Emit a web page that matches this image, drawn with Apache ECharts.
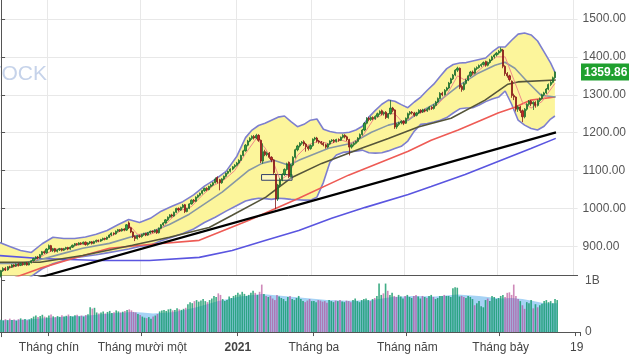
<!DOCTYPE html>
<html><head><meta charset="utf-8">
<script src="https://cdn.jsdelivr.net/npm/echarts@6/dist/echarts.min.js"></script>
<style>html,body{margin:0;padding:0;background:#fff}#c{width:629px;height:354px}</style>
</head><body><div id="c"></div>
<script>
// ---- daily candles: [open, close, low, high] ----
const ohlc = [
[822,836,818,838],[836,842,833,845],[842,838,835,846],[838,846,836,848],[846,845,842,849],
[845,851,843,853],[851,848,845,853],[848,853,846,855],[853,850,847,856],[850,855,848,857],
[855,852,849,858],[852,856,850,858],[856,851,849,858],[851,857,850,859],[857,862,855,864],
[862,868,860,870],[868,872,865,874],[872,870,866,875],[870,878,868,880],[878,886,876,888],
[886,883,880,889],[883,893,881,895],[893,902,891,905],[902,889,886,904],[889,894,885,896],
[894,887,884,896],[887,891,884,893],[891,894,888,896],[894,890,887,896],[890,894,888,896],
[894,897,891,899],[897,893,890,899],[893,898,891,900],[898,903,896,905],[903,907,900,909],
[907,905,902,909],[905,909,903,911],[909,907,904,911],[907,911,905,913],[911,905,902,913],
[905,909,902,911],[909,912,906,914],[912,908,905,914],[908,913,906,915],[913,916,910,918],
[916,914,911,918],[914,918,912,920],[918,921,915,923],[921,919,916,923],[919,924,917,926],
[924,930,922,932],[930,935,927,937],[935,933,929,937],[933,940,931,942],[940,944,937,946],
[944,941,938,946],[941,946,939,948],[946,943,940,948],[943,957,941,959],[962,949,946,966],
[949,938,935,951],[938,926,922,940],[926,921,914,929],[921,928,918,930],[928,926,922,931],
[926,931,923,933],[931,934,928,936],[934,930,927,936],[930,936,928,938],[936,940,933,942],
[940,938,935,942],[938,943,936,945],[943,936,933,945],[936,948,934,950],[948,957,946,959],
[957,962,954,964],[962,970,960,972],[970,977,967,979],[977,983,974,985],[983,980,976,986],
[980,990,978,992],[990,1000,988,1002],[1000,996,992,1003],[996,1003,994,1005],[1003,1009,1000,1012],
[1010,992,988,1012],[992,1000,990,1002],[1000,1012,998,1014],[1012,1022,1010,1024],[1022,1019,1015,1025],
[1019,1030,1017,1032],[1030,1035,1027,1037],[1035,1040,1032,1042],[1040,1047,1037,1049],[1047,1053,1044,1055],
[1053,1050,1046,1056],[1050,1058,1048,1060],[1058,1062,1055,1065],[1062,1068,1059,1070],[1068,1078,1066,1082],
[1082,1070,1066,1085],[1076,1068,1048,1078],[1068,1078,1065,1080],[1078,1085,1075,1087],[1085,1093,1082,1095],
[1093,1098,1090,1100],[1098,1104,1095,1106],[1104,1110,1101,1112],[1110,1114,1106,1117],[1114,1120,1111,1123],
[1120,1127,1117,1130],[1127,1140,1125,1142],[1140,1152,1138,1155],[1152,1167,1150,1170],[1167,1178,1164,1181],
[1178,1185,1175,1188],[1185,1190,1181,1193],[1190,1186,1182,1194],[1186,1193,1183,1197],[1193,1180,1176,1196],
[1180,1125,1120,1182],[1125,1150,1118,1172],[1150,1142,1138,1155],[1142,1146,1138,1150],[1146,1135,1131,1149],
[1135,1128,1122,1138],[1128,1095,1090,1130],[1090,1025,998,1092],[1025,1062,1020,1065],[1062,1076,1058,1080],
[1076,1090,1072,1093],[1090,1103,1086,1106],[1103,1118,1100,1121],[1122,1084,1080,1124],[1084,1115,1082,1118],
[1115,1135,1112,1138],[1135,1155,1132,1158],[1155,1165,1151,1168],[1165,1172,1161,1175],[1172,1175,1168,1178],
[1176,1170,1165,1180],[1170,1163,1150,1173],[1163,1158,1153,1166],[1158,1166,1155,1169],[1166,1183,1163,1185],
[1183,1186,1179,1189],[1186,1178,1174,1189],[1178,1175,1171,1181],[1175,1172,1168,1178],[1172,1168,1164,1175],
[1168,1162,1158,1171],[1162,1170,1159,1172],[1170,1178,1167,1180],[1178,1180,1175,1183],[1180,1177,1173,1183],
[1177,1182,1174,1184],[1182,1180,1176,1185],[1180,1188,1178,1190],[1188,1193,1185,1196],[1193,1189,1185,1196],
[1189,1182,1178,1192],[1182,1162,1140,1184],[1162,1168,1158,1171],[1168,1172,1164,1175],[1172,1177,1169,1179],
[1177,1186,1174,1188],[1186,1195,1183,1198],[1195,1207,1192,1210],[1207,1225,1204,1228],[1225,1238,1222,1241],
[1238,1235,1230,1242],[1235,1240,1231,1243],[1240,1237,1233,1243],[1237,1243,1234,1246],[1243,1250,1240,1253],
[1250,1256,1247,1259],[1258,1250,1246,1261],[1250,1253,1245,1256],[1254,1240,1236,1257],[1240,1250,1237,1252],
[1250,1265,1248,1286],[1265,1259,1254,1268],[1260,1215,1210,1262],[1215,1222,1210,1225],[1222,1226,1218,1229],
[1226,1230,1222,1233],[1230,1225,1220,1233],[1225,1238,1223,1240],[1238,1250,1235,1253],[1250,1254,1246,1257],
[1254,1252,1248,1257],[1252,1246,1242,1255],[1246,1252,1243,1255],[1252,1259,1249,1262],[1259,1255,1251,1262],
[1255,1260,1252,1263],[1260,1258,1254,1263],[1258,1262,1255,1265],[1262,1267,1259,1270],[1267,1264,1260,1270],
[1264,1272,1261,1275],[1272,1281,1270,1284],[1281,1290,1278,1293],[1290,1304,1288,1307],[1304,1300,1296,1308],
[1300,1312,1298,1315],[1312,1318,1309,1321],[1318,1331,1315,1334],[1331,1342,1328,1345],[1342,1352,1339,1355],
[1352,1365,1349,1368],[1365,1370,1360,1374],[1370,1320,1315,1372],[1322,1314,1308,1326],[1314,1330,1311,1333],
[1330,1339,1327,1342],[1339,1350,1336,1353],[1350,1360,1347,1363],[1360,1357,1353,1364],[1357,1369,1354,1372],
[1369,1372,1365,1375],[1372,1377,1369,1380],[1377,1380,1373,1383],[1380,1385,1377,1388],[1388,1378,1374,1390],
[1378,1385,1375,1388],[1385,1392,1382,1395],[1392,1400,1389,1403],[1400,1405,1396,1408],[1405,1410,1401,1413],
[1410,1415,1406,1418],[1415,1420,1411,1425],[1418,1375,1370,1421],[1375,1356,1350,1378],[1356,1350,1345,1360],
[1350,1340,1335,1353],[1336,1298,1292,1338],[1298,1294,1286,1303],[1294,1262,1256,1296],[1262,1268,1255,1272],
[1268,1258,1252,1271],[1258,1242,1228,1261],[1242,1262,1238,1265],[1262,1275,1258,1278],[1275,1283,1271,1286],
[1283,1276,1270,1286],[1276,1280,1260,1283],[1280,1272,1266,1283],[1272,1285,1269,1288],[1285,1290,1281,1293],
[1290,1300,1287,1303],[1300,1305,1296,1308],[1305,1315,1302,1318],[1315,1327,1312,1330],[1327,1333,1323,1336],
[1333,1345,1330,1348],[1345,1359.86,1342,1362]
];
// ---- daily volume (millions of shares) ----
const volume = [
240,225,250,230,260,235,245,220,250,265,240,255,230,245,270,
300,320,290,310,335,300,285,320,340,305,290,310,295,325,300,315,340,310,300,325,335,305,320,300,330,345,
480,455,470,380,360,
380,400,360,390,410,370,385,420,400,380,395,410,430,440,420,390,380,350,330,
300,280,270,290,260,300,320,350,
400,420,430,410,440,450,420,430,460,440,430,450,470,
540,580,560,600,620,590,610,640,600,580,620,650,700,680,750,720,640,600,620,690,660,
700,720,760,730,780,740,700,720,760,800,760,720,780,920,740,700,
680,700,650,620,720,690,660,640,600,680,700,640,620,660,700,640,600,580,610,640,600,
600,580,620,610,590,600,570,620,600,580,610,600,620,590,580,610,600,580,620,650,600,580,620,640,650,620,600,640,660,
700,940,720,750,940,800,720,760,
700,680,720,690,650,700,720,680,660,700,720,690,650,700,680,660,700,720,680,640,660,700,700,720,700,700,680,
850,870,860,690,700,680,660,700,680,640,520,560,600,500,480,620,650,600,700,680,640,660,
700,720,680,760,770,720,920,700,640,
600,520,450,580,560,620,460,540,480,520,550,600,
620,580,600,560,640,620
];
// ---- Bollinger band (read at day positions) ----
const bandIdx = [-1,4,9,14,19,24,29,34,39,44,49,54,59,64,69,74,79,84,89,94,99,104,109,113,116,119,122,125,128,131,134,137,140,143,146,149,152,155,158,161,164,167,170,173,176,179,182,185,188,191,194,197,200,203,206,209,212,215,218,221,224,227,230,233,236,239,242,245,248,251,254,256];
const bbUpper = [911,900,889,884,907,924,921,921,925,932,942,957,971,963,974,993,1006,1018,1036,1059,1077,1098,1138,1187,1207,1219,1225,1233,1241,1244,1229,1216,1222,1233,1236,1209,1203,1200,1199,1201,1207,1217,1241,1259,1275,1286,1283,1274,1266,1281,1294,1312,1328,1349,1369,1380,1384,1385,1389,1393,1397,1413,1426,1426,1444,1460,1463,1458,1442,1413,1384,1360];
const bbLower = [784,792,802,821,841,854,863,870,874,878,883,888,893,900,903,915,924,934,946,963,977,993,1008,1020,1024,1027,1026,1024,1027,1026,1024,1023,1022,1022,1030,1069,1122,1141,1148,1150,1151,1154,1147,1146,1147,1152,1158,1164,1178,1204,1222,1224,1228,1233,1240,1252,1263,1265,1266,1273,1282,1289,1294,1310,1275,1233,1220,1211,1207,1217,1236,1244];
// ---- moving averages (read at day positions) ----
const ma20Idx = [-1,8.7,17.9,27.1,37.7,50.1,60.7,68.6,77.8,87,102.2,114.6,120.6,126.1,133,137.6,151.4,162,171.2,179,188.2,192.8,202,211.3,220.5,228.3,232.9,237.5,243.5,249.5,256.4];
const ma20 = [855,855,865,879,895,908,926,937,958,985,1043,1101,1119,1127,1114,1127,1159,1172,1201,1220,1233,1252,1281,1323,1357,1378,1386,1370,1333,1299,1294];
const ma50Idx = [-1,17.9,37.7,60.7,77.8,96.2,106.8,122.4,134.4,148.2,166.6,179,192.8,208,223.7,234.3,238.9,256.4];
const ma50 = [858,858,876,903,924,950,982,1030,1082,1119,1159,1185,1215,1238,1286,1328,1334,1339];
const ma100Idx = [-1,6.4,17.9,33.1,50.1,68.6,91.6,114.6,137.6,160.6,188.2,198.8,211.3,221.9,229.7,237.5,244.9,256];
const ma100 = [805,818,842,868,895,905,916,969,1027,1088,1151,1180,1207,1233,1252,1267,1286,1294];
const ma200Idx = [-1,17.9,45.5,68.6,91.6,106.8,122.4,137.6,152.8,168.4,188.2,198.8,214.5,229.7,244.9,256.4];
const ma200 = [876,868,863,863,871,889,916,942,974,1003,1037,1058,1090,1124,1158,1185];
const ma5Idx = [0,5,10,15,20,25,30,35,40,45,50,55,60,63,68,73,78,83,88,93,98,103,108,113,118,122,126,129,133,137,142,147,152,157,162,167,172,177,182,186,191,196,201,206,211,214,219,224,229,233,237,241,245,250,256];
const ma5 = [835,845,852,860,878,893,893,903,908,913,925,940,952,932,930,940,970,995,1005,1035,1060,1075,1100,1145,1185,1160,1120,1075,1090,1140,1168,1178,1170,1181,1172,1190,1234,1250,1250,1225,1248,1256,1270,1300,1350,1340,1355,1380,1400,1400,1340,1280,1265,1282,1330];
const trendIdx = [14,256.5];
const trendVal = [812,1201];
const volMaIdx = [-1,10,20,30,40,50,60,65,70,80,90,100,110,120,130,140,150,160,170,180,190,200,210,220,230,235,240,245,250,256];
const volMa = [230,240,270,300,320,360,390,380,360,390,480,600,690,740,700,660,620,605,615,680,700,690,730,700,650,660,640,600,560,560];
// ---- annotation box (day positions / price) ----
const boxIdx = [120.4,134.5];
const boxVal = [1089.5,1074.5];
// ---- axis ticks ----
const tickIdx = [22,65,109,144,187,230,265];
const tickLabels = ['Tháng chín','Tháng mười một','2021','Tháng ba','Tháng năm','Tháng bảy','19'];
const boldLabels = ['2021'];
const priceTicks = [900,1000,1100,1200,1300,1400,1500];
const volTicks = [0,1000];
const volTickLabels = ['0','1B'];
const lastPrice = 1359.86;
const N = 267;

const cats = Array.from({length: N}, (_, i) => String(i));
const pairs = (idx, vals) => idx.map((x, k) => [x, vals[k]]);
const isTick = (i) => tickIdx.indexOf(i) >= 0;
const FONT = 'Liberation Sans, Arial, sans-serif';

const chart = echarts.init(document.getElementById('c'), null, {renderer: 'canvas'});
const lineS = (name, idx, vals, color, width, z) => ({
  name, type: 'line', xAxisIndex: 2, yAxisIndex: 0, data: pairs(idx, vals),
  symbol: 'none', silent: true, z: z || 3, clip: true,
  lineStyle: {color, width}
});

chart.setOption({
  animation: false,
  backgroundColor: '#ffffff',
  textStyle: {fontFamily: FONT},
  grid: [
    {left: 0, right: 49, top: 0, bottom: 78.3},
    {left: 0, right: 49, top: 276.5, bottom: 17.3}
  ],
  xAxis: [
    {type: 'category', gridIndex: 0, data: cats, boundaryGap: true,
     axisLine: {show: true, lineStyle: {color: '#555', width: 1}},
     axisTick: {show: false}, axisLabel: {show: false}, splitLine: {show: false}},
    {type: 'category', gridIndex: 1, data: cats, boundaryGap: true,
     axisLine: {show: true, lineStyle: {color: '#555', width: 1}},
     axisTick: {show: true, interval: (i) => isTick(i), length: 4, lineStyle: {color: '#555'}},
     axisLabel: {show: true, interval: (i) => isTick(i), color: '#444', fontSize: 12, fontFamily: FONT, margin: 5,
       rich: {b: {fontWeight: 'bold', fontSize: 12, color: '#444', fontFamily: FONT}},
       formatter: (v, i) => {
         const k = tickIdx.indexOf(i);
         if (k < 0) return '';
         const t = tickLabels[k];
         return boldLabels.indexOf(t) >= 0 ? '{b|' + t + '}' : t;
       }},
     splitLine: {show: false}},
    {type: 'value', gridIndex: 0, min: -0.5, max: N - 0.5, show: false},
    {type: 'value', gridIndex: 1, min: -0.5, max: N - 0.5, show: false}
  ],
  yAxis: [
    {type: 'value', gridIndex: 0, position: 'right', min: 822.7, max: 1550.1,
     axisLine: {show: true, lineStyle: {color: '#555'}},
     axisTick: {show: true, customValues: priceTicks, length: 4, lineStyle: {color: '#555'}},
     axisLabel: {customValues: priceTicks, formatter: (v) => v.toFixed(2), color: '#555', fontSize: 12, fontFamily: FONT, margin: 5},
     splitLine: {show: false}},
    {type: 'value', gridIndex: 1, position: 'right', min: -90, max: 1077,
     axisLine: {show: true, lineStyle: {color: '#555'}},
     axisTick: {show: true, customValues: volTicks, length: 4, lineStyle: {color: '#555'}},
     axisLabel: {customValues: volTicks, formatter: (v) => volTickLabels[volTicks.indexOf(v)] || '', color: '#555', fontSize: 12, fontFamily: FONT, margin: 5},
     splitLine: {show: false}}
  ],
  series: [
    // grid lines (under everything)
    {type: 'line', xAxisIndex: 2, yAxisIndex: 0, z: 0, silent: true, data: [], symbol: 'none',
     markLine: {z: 0, silent: true, symbol: 'none', label: {show: false},
       lineStyle: {color: '#e8e8e8', width: 1, type: 'solid'},
       data: priceTicks.map(v => ({yAxis: v})).concat(tickIdx.map(k => ({xAxis: k - 0.5})))}},
    {type: 'custom', xAxisIndex: 2, yAxisIndex: 0, z: 1, silent: true, clip: true,
     data: [[0, 1000]],
     renderItem: (params, api) => {
       const pts = [];
       for (let k = 0; k < bandIdx.length; k++) pts.push(api.coord([bandIdx[k], bbUpper[k]]));
       for (let k = bandIdx.length - 1; k >= 0; k--) pts.push(api.coord([bandIdx[k], bbLower[k]]));
       const cs = params.coordSys;
       return {type: 'polygon', shape: {points: pts}, style: {fill: '#fcf59b'},
               clipPath: {type: 'rect', shape: {x: cs.x, y: cs.y, width: cs.width, height: cs.height}}};
     }},
    lineS('BB upper', bandIdx, bbUpper, '#7d7fcf', 1.6, 2),
    lineS('BB lower', bandIdx, bbLower, '#7d7fcf', 1.6, 2),
    lineS('MA200', ma200Idx, ma200, '#5a55e0', 1.6, 3),
    lineS('MA100', ma100Idx, ma100, '#ee5b55', 1.6, 3),
    lineS('MA20', ma20Idx, ma20, '#8798a4', 1.6, 3),
    lineS('MA50', ma50Idx, ma50, '#55553a', 1.6, 3),
    Object.assign(lineS('Trend', trendIdx, trendVal, '#000000', 2.2, 4), {
      markArea: {z: 4, silent: true, itemStyle: {color: 'rgba(255,255,255,0.35)', borderColor: '#34406a', borderWidth: 1},
        data: [[{coord: [boxIdx[0], boxVal[0]]}, {coord: [boxIdx[1], boxVal[1]]}]]}
    }),
    lineS('MA5', ma5Idx, ma5, '#f08a8a', 1, 5),
    {name: 'Price', type: 'candlestick', xAxisIndex: 0, yAxisIndex: 0, z: 6, silent: true,
     barWidth: '75%',
     data: ohlc,
     itemStyle: {color: '#2f9e44', color0: '#c62828', borderColor: '#1c6b2c', borderColor0: '#801616', borderWidth: 0.8}},
    {name: 'Volume MA', type: 'line', xAxisIndex: 3, yAxisIndex: 1, z: 1, silent: true, symbol: 'none', clip: true,
     data: pairs(volMaIdx, volMa), lineStyle: {width: 0},
     areaStyle: {color: '#a6d3f5', opacity: 1, origin: 0}},
    {name: 'Volume', type: 'bar', xAxisIndex: 1, yAxisIndex: 1, z: 2, silent: true, barWidth: '75%',
     data: volume.map((v, i) => ({value: v, itemStyle: {color: (ohlc[i][1] >= ohlc[i][0]) ? 'rgba(10,150,100,0.78)' : 'rgba(175,60,140,0.6)'}}))}
  ]
});

// last price tag on the right axis, placed through the y scale
const yLast = chart.convertToPixel({yAxisIndex: 0}, lastPrice);
chart.setOption({
  graphic: [
    {type: 'text', right: 629 - 47, top: 64, z: 0, silent: true,
     style: {text: 'STOCK', fill: '#c6d3ea', font: '21px ' + FONT}},
    {type: 'text', left: 581, top: yLast - 8.5, z: 100, silent: true,
     style: {text: lastPrice.toFixed(2), fill: '#ffffff', font: 'bold 12px ' + FONT,
             backgroundColor: '#1fa02e', padding: [3, 3, 2, 3]}}
  ]
});
</script></body></html>
